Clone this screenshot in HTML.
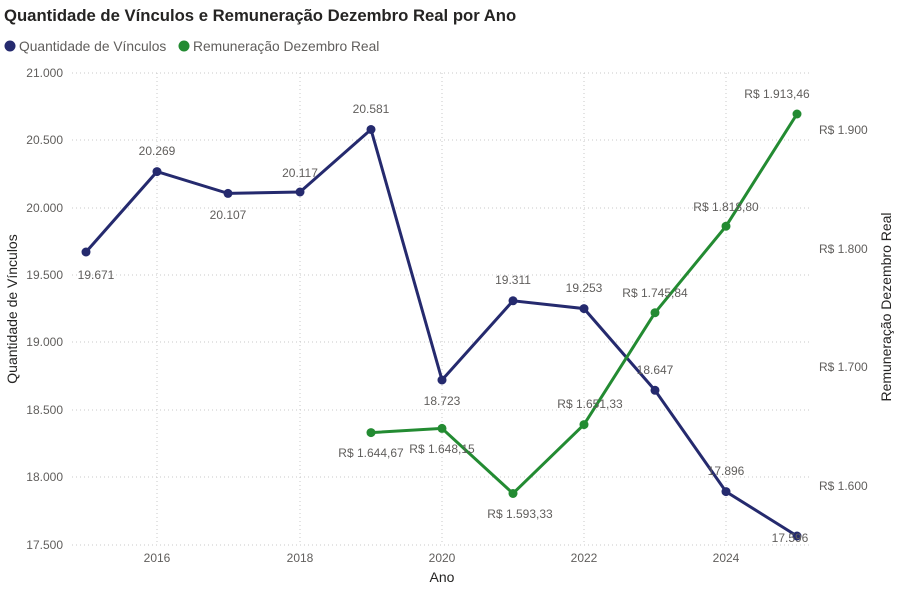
<!DOCTYPE html>
<html><head><meta charset="utf-8"><style>
body{margin:0;background:#fff;}
svg text{font-family:"Liberation Sans","DejaVu Sans",sans-serif;}
</style></head><body>
<svg width="909" height="589" xmlns="http://www.w3.org/2000/svg">
<text x="4" y="21" font-size="16.7" font-weight="bold" fill="#252423">Quantidade de Vínculos e Remuneração Dezembro Real por Ano</text>
<circle cx="10" cy="46" r="5.5" fill="#252a6e"/>
<text x="19" y="51" font-size="13.8" fill="#605e5c">Quantidade de Vínculos</text>
<circle cx="184" cy="46" r="5.5" fill="#238b32"/>
<text x="193" y="51" font-size="13.8" fill="#605e5c">Remuneração Dezembro Real</text>
<g stroke="#c8c8c8" stroke-dasharray="1,3" stroke-width="1">
<line x1="72" x2="810" y1="73" y2="73"/><line x1="72" x2="810" y1="140" y2="140"/><line x1="72" x2="810" y1="208" y2="208"/><line x1="72" x2="810" y1="275" y2="275"/><line x1="72" x2="810" y1="342" y2="342"/><line x1="72" x2="810" y1="410" y2="410"/><line x1="72" x2="810" y1="477" y2="477"/><line x1="72" x2="810" y1="545" y2="545"/>
<line x1="157" x2="157" y1="73" y2="545"/><line x1="300" x2="300" y1="73" y2="545"/><line x1="442" x2="442" y1="73" y2="545"/><line x1="584" x2="584" y1="73" y2="545"/><line x1="726" x2="726" y1="73" y2="545"/>
</g>
<g font-size="12" fill="#605e5c" text-anchor="end">
<text x="63" y="77">21.000</text><text x="63" y="144">20.500</text><text x="63" y="212">20.000</text><text x="63" y="279">19.500</text><text x="63" y="346">19.000</text><text x="63" y="414">18.500</text><text x="63" y="481">18.000</text><text x="63" y="549">17.500</text>
</g>
<g font-size="12" fill="#605e5c">
<text x="819" y="134">R$ 1.900</text><text x="819" y="253">R$ 1.800</text><text x="819" y="371">R$ 1.700</text><text x="819" y="490">R$ 1.600</text>
</g>
<g font-size="12" fill="#605e5c" text-anchor="middle">
<text x="157" y="562">2016</text><text x="300" y="562">2018</text><text x="442" y="562">2020</text><text x="584" y="562">2022</text><text x="726" y="562">2024</text>
</g>
<text x="442" y="582" font-size="14" fill="#252423" text-anchor="middle">Ano</text>
<text transform="translate(17,309) rotate(-90)" font-size="14" fill="#252423" text-anchor="middle">Quantidade de Vínculos</text>
<text transform="translate(891,307) rotate(-90)" font-size="14" fill="#252423" text-anchor="middle">Remuneração Dezembro Real</text>
<polyline fill="none" stroke="#252a6e" stroke-width="3" points="86,252 157,171.6 228,193.4 300,192 371,129.5 442,380 513,300.8 584,308.6 655,390.3 726,491.6 797,536"/>
<g fill="#252a6e">
<circle cx="86" cy="252" r="4.5"/><circle cx="157" cy="171.6" r="4.5"/><circle cx="228" cy="193.4" r="4.5"/><circle cx="300" cy="192" r="4.5"/><circle cx="371" cy="129.5" r="4.5"/><circle cx="442" cy="380" r="4.5"/><circle cx="513" cy="300.8" r="4.5"/><circle cx="584" cy="308.6" r="4.5"/><circle cx="655" cy="390.3" r="4.5"/><circle cx="726" cy="491.6" r="4.5"/><circle cx="797" cy="536" r="4.5"/>
</g>
<polyline fill="none" stroke="#238b32" stroke-width="3" points="371,432.6 442,428.4 513,493.5 584,424.6 655,312.7 726,226.2 797,114"/>
<g fill="#238b32">
<circle cx="371" cy="432.6" r="4.5"/><circle cx="442" cy="428.4" r="4.5"/><circle cx="513" cy="493.5" r="4.5"/><circle cx="584" cy="424.6" r="4.5"/><circle cx="655" cy="312.7" r="4.5"/><circle cx="726" cy="226.2" r="4.5"/><circle cx="797" cy="114" r="4.5"/>
</g>
<g font-size="12" fill="#605e5c" text-anchor="middle">
<text x="96" y="279">19.671</text><text x="157" y="155">20.269</text><text x="228" y="219">20.107</text><text x="300" y="177">20.117</text><text x="371" y="113">20.581</text><text x="442" y="405">18.723</text><text x="513" y="284">19.311</text><text x="584" y="292">19.253</text><text x="655" y="374">18.647</text><text x="726" y="475">17.896</text><text x="790" y="542">17.596</text>
<text x="371" y="457">R$ 1.644,67</text><text x="442" y="453">R$ 1.648,15</text><text x="520" y="518">R$ 1.593,33</text><text x="590" y="408">R$ 1.651,33</text><text x="655" y="297">R$ 1.745,84</text><text x="726" y="211">R$ 1.818,80</text><text x="777" y="98">R$ 1.913,46</text>
</g>
</svg>
</body></html>
